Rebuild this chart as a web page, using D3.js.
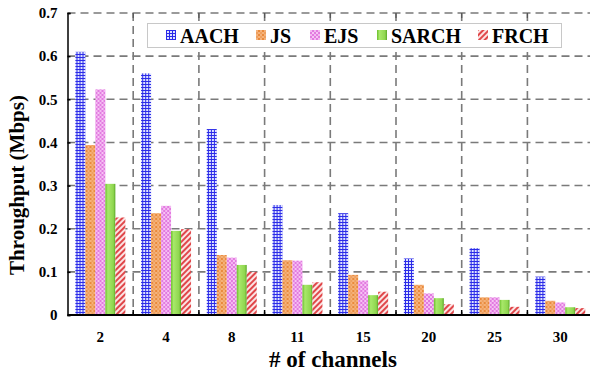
<!DOCTYPE html>
<html><head><meta charset="utf-8">
<script src="https://cdn.jsdelivr.net/npm/d3@7"></script>
</head><body style="margin:0">
<svg id="c" width="590" height="376"></svg>
<script>
const categories = ["2","4","8","11","15","20","25","30"];
const seriesNames = ["AACH","JS","EJS","SARCH","FRCH"];
const AACH  = [0.610,0.560,0.431,0.255,0.236,0.131,0.155,0.089];
const JS    = [0.394,0.236,0.139,0.127,0.093,0.070,0.041,0.033];
const EJS   = [0.523,0.253,0.133,0.126,0.080,0.050,0.041,0.029];
const SARCH = [0.304,0.195,0.116,0.070,0.046,0.039,0.035,0.018];
const FRCH  = [0.226,0.199,0.100,0.076,0.054,0.025,0.019,0.016];
const yTicks = [0,0.1,0.2,0.3,0.4,0.5,0.6,0.7];
const seriesValues = [AACH,JS,EJS,SARCH,FRCH];

const svg = d3.select("#c");
const L=67.5, T=13, B=315, band=65.7;
const x = d3.scaleBand().domain(categories).range([L, L+band*categories.length]).padding(0);
const y = d3.scaleLinear().domain([0,0.7]).range([B,T]);
const barW = 10;
const xs = d3.scaleBand().domain(seriesNames).range([(band-barW*5)/2,(band+barW*5)/2]).padding(0);

function txt(sel,size){return sel.style("font-family",'"Liberation Serif"',"important").attr("font-weight","bold").attr("font-size",size).attr("fill","#000");}

// patterns
const defs = svg.append("defs");
function pat(id,w,h){return defs.append("pattern").attr("id",id).attr("patternUnits","userSpaceOnUse").attr("width",w).attr("height",h);}
let p = pat("pA",3,3);
p.append("rect").attr("width",3).attr("height",3).attr("fill","#2b2be8");
p.append("rect").attr("x",1).attr("y",1).attr("width",2).attr("height",2).attr("fill","#dfe3ff");
p = pat("pJ",4,4);
p.append("rect").attr("width",4).attr("height",4).attr("fill","#f5b27a");
p.append("rect").attr("width",2).attr("height",2).attr("fill","#e98a3c");
p.append("rect").attr("x",2).attr("y",2).attr("width",2).attr("height",2).attr("fill","#e98a3c");
p.append("rect").attr("x",0.5).attr("y",0.5).attr("width",1).attr("height",1).attr("fill","#fde3c8");
p = pat("pE",4,4);
p.append("rect").attr("width",4).attr("height",4).attr("fill","#f4b8f2");
p.append("rect").attr("width",2).attr("height",2).attr("fill","#e27be0");
p.append("rect").attr("x",2).attr("y",2).attr("width",2).attr("height",2).attr("fill","#e27be0");
p.append("rect").attr("x",2.5).attr("y",0.5).attr("width",1).attr("height",1).attr("fill","#fde8fc");
const g = defs.append("linearGradient").attr("id","gS").attr("x1","0").attr("x2","1").attr("y1","0").attr("y2","0");
g.append("stop").attr("offset","0").attr("stop-color","#6bbf2c");
g.append("stop").attr("offset","0.25").attr("stop-color","#a8e86a");
g.append("stop").attr("offset","0.8").attr("stop-color","#8fd64f");
g.append("stop").attr("offset","1").attr("stop-color","#5aa828");
p = pat("pF",4,4).attr("patternTransform","rotate(45)");
p.append("rect").attr("width",4).attr("height",4).attr("fill","#fbe4e4");
p.append("rect").attr("width",2).attr("height",4).attr("fill","#e0474a");
const fills = {AACH:"url(#pA)",JS:"url(#pJ)",EJS:"url(#pE)",SARCH:"url(#gS)",FRCH:"url(#pF)"};

// grid
const grid = svg.append("g").attr("stroke","#7a7a7a").attr("stroke-width",1.6).attr("stroke-dasharray","8,5").attr("fill","none");
grid.selectAll("line.h").data(yTicks.slice(1)).join("line")
  .attr("x1",L).attr("x2",590).attr("y1",d=>y(d)).attr("y2",d=>y(d));
grid.selectAll("line.v").data(categories.slice(1)).join("line")
  .attr("x1",d=>x(d)).attr("x2",d=>x(d)).attr("y1",T).attr("y2",B);

// bars
const groups = svg.append("g").selectAll("g").data(categories).join("g")
  .attr("transform",d=>`translate(${x(d)},0)`);
groups.selectAll("rect").data((d,i)=>seriesNames.map((s,k)=>({s,v:seriesValues[k][i]}))).join("rect")
  .attr("x",d=>xs(d.s)).attr("width",xs.bandwidth())
  .attr("y",d=>y(d.v)).attr("height",d=>B-y(d.v))
  .attr("fill",d=>fills[d.s]);

// axes
const yAxis = svg.append("g").attr("transform",`translate(${L},0)`)
  .call(d3.axisLeft(y).tickValues(yTicks).tickSize(-3).tickPadding(10).tickFormat(d=>d===0?"0":d3.format(".1f")(d)));
yAxis.select(".domain").attr("stroke","#000").attr("stroke-width",1.5);
yAxis.selectAll(".tick line").attr("stroke","#000").attr("stroke-width",1.5);
txt(yAxis.selectAll("text"),15);

const xAxis = svg.append("g").attr("transform",`translate(0,${B})`)
  .call(d3.axisBottom(x).tickSize(0).tickPadding(16));
xAxis.select(".domain").remove();
txt(xAxis.selectAll("text"),15);
svg.append("line").attr("x1",L).attr("x2",590).attr("y1",B).attr("y2",B).attr("stroke","#000").attr("stroke-width",1.8);
svg.append("g").selectAll("line").data(categories.slice(1)).join("line")
  .attr("x1",d=>x(d)).attr("x2",d=>x(d)).attr("y1",B).attr("y2",B-5).attr("stroke","#000").attr("stroke-width",1.5);
svg.append("g").selectAll("line").data(categories.slice(1)).join("line")
  .attr("x1",d=>x(d)).attr("x2",d=>x(d)).attr("y1",T).attr("y2",T+5).attr("stroke","#555").attr("stroke-width",1.2);

// titles
txt(svg.append("text").attr("transform","translate(24,185) rotate(-90)").attr("text-anchor","middle"),21).text("Throughput (Mbps)");
txt(svg.append("text").attr("x",333).attr("y",367).attr("text-anchor","middle"),23).text("# of channels");

// legend
const lg = svg.append("g");
lg.append("rect").attr("x",147.5).attr("y",23.5).attr("width",414).attr("height",24).attr("fill","#fff").attr("stroke","#c8c8c8").attr("stroke-width",1);
const lx = {AACH:166,JS:256,EJS:310,SARCH:377,FRCH:478};
const items = lg.selectAll("g").data(seriesNames).join("g").attr("transform",d=>`translate(${lx[d]},0)`);
items.append("rect").attr("x",0).attr("y",30).attr("width",10).attr("height",10).attr("fill",d=>fills[d]);
txt(items.append("text").attr("x",14).attr("y",42.5),20).text(d=>d);
</script></body></html>
